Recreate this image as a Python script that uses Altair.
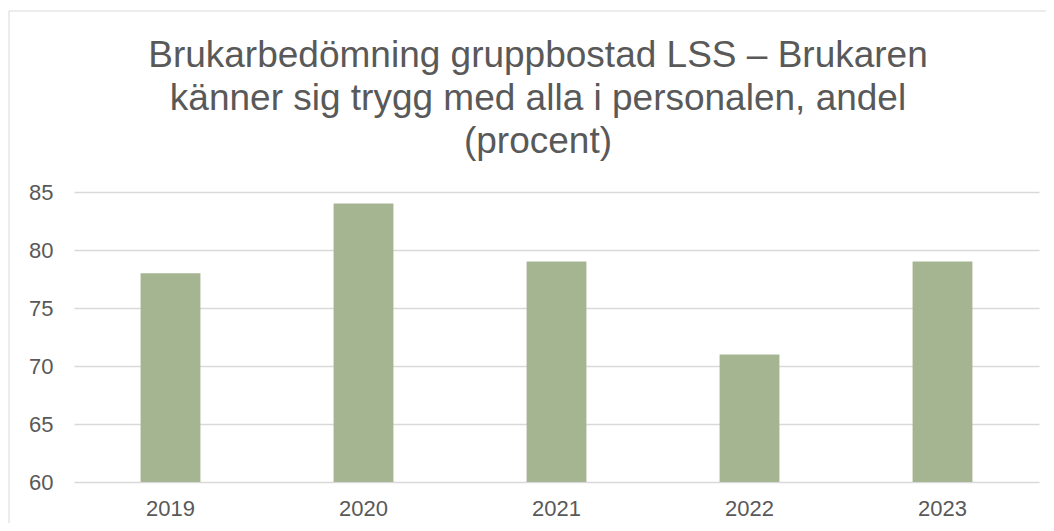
import altair as alt
import pandas as pd

years = ["2019", "2020", "2021", "2022", "2023"]
values = [78, 84, 79, 71, 79]
title_lines = [
    "Brukarbedömning gruppbostad LSS – Brukaren",
    "känner sig trygg med alla i personalen, andel",
    "(procent)",
]

df = pd.DataFrame({"year": years, "value": values})

GREY = "#595959"
FONT = "Liberation Sans"

one = pd.DataFrame({"a": [0]})

border = alt.Chart(one).mark_rect(
    fill=None, stroke="#d9d9d9", strokeWidth=1
).encode(
    x=alt.value(-65), x2=alt.value(1010),
    y=alt.value(-181), y2=alt.value(400),
)

title = alt.Chart(one).mark_text(
    text=title_lines, fontSize=37, font=FONT, color=GREY,
    lineHeight=43, align="center", baseline="alphabetic",
).encode(
    x=alt.value(464), y=alt.value(-125),
)

bars = alt.Chart(df).mark_bar(color="#A5B592").encode(
    x=alt.X("year:N", sort=years,
            scale=alt.Scale(paddingInner=0.69, paddingOuter=0.345),
            axis=alt.Axis(title=None, labelAngle=0, domain=False, ticks=False,
                          labelPadding=16, labelFontSize=22, labelColor=GREY,
                          labelFont=FONT)),
    y=alt.Y("value:Q",
            scale=alt.Scale(domain=[60, 85], zero=False, nice=False),
            axis=alt.Axis(title=None, values=[60, 65, 70, 75, 80, 85],
                          domain=False, ticks=False, labelPadding=21,
                          labelFontSize=22, labelColor=GREY, labelFont=FONT,
                          gridColor="#d9d9d9", gridWidth=1.5)),
    y2=alt.datum(60),
)

chart = alt.layer(border, title, bars).properties(
    width=965, height=290,
    padding={"left": 66, "top": 184, "right": 7, "bottom": 41},
    autosize=alt.AutoSizeParams(type="none"),
).configure_view(stroke=None)

chart.save("out.html", embed_options={"renderer": "svg", "actions": False})
